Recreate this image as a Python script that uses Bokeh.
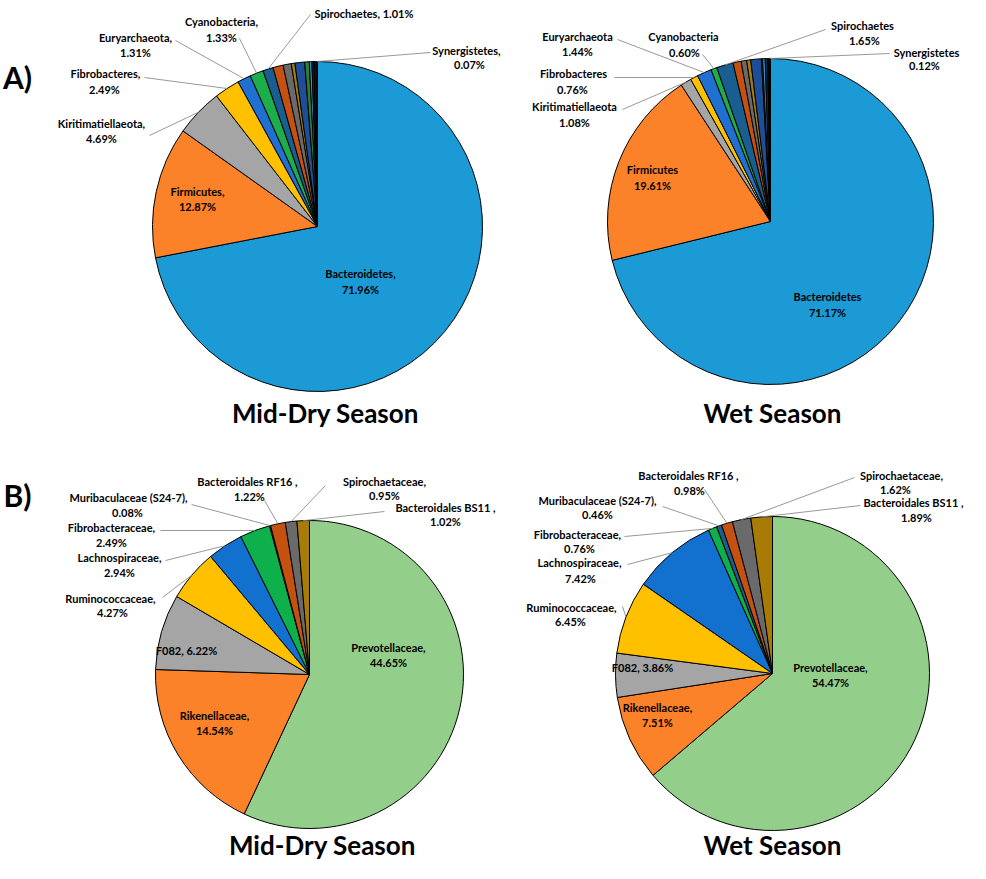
import math
from bokeh.plotting import figure
from bokeh.models import Range1d
from bokeh.core.properties import value
from bokeh.embed import file_html
from bokeh.resources import INLINE

# ---------------- data ----------------
phylum_names = ["Bacteroidetes", "Firmicutes", "Kiritimatiellaeota", "Fibrobacteres",
                "Euryarchaeota", "Cyanobacteria", "Spirochaetes",
                "Other 1", "Other 2", "Other 3", "Other 4", "Other 5",
                "Other 6", "Other 7", "Other 8", "Synergistetes"]
phylum_dry = [71.96, 12.87, 4.69, 2.49, 1.31, 1.33, 1.01,
              1.00, 0.80, 0.35, 0.95, 0.45, 0.25, 0.20, 0.27, 0.07]
phylum_wet = [71.17, 19.61, 1.08, 0.76, 1.44, 0.60, 1.65,
              0.80, 0.55, 0.40, 1.05, 0.12, 0.25, 0.25, 0.15, 0.12]

family_names = ["Prevotellaceae", "Rikenellaceae", "F082", "Ruminococcaceae",
                "Lachnospiraceae", "Fibrobacteraceae", "Muribaculaceae (S24-7)",
                "Bacteroidales RF16", "Spirochaetaceae", "Bacteroidales BS11"]
family_dry = [44.65, 14.54, 6.22, 4.27, 2.94, 2.49, 0.08, 1.22, 0.95, 1.02]
family_wet = [54.47, 7.51, 3.86, 6.45, 7.42, 0.76, 0.46, 0.98, 1.62, 1.89]

season_titles = ["Mid-Dry Season", "Wet Season"]
panel_tags = ["A)", "B)"]

# ---------------- styles ----------------
phylum_colors = ["#1C9AD6", "#FB8228", "#A5A5A5", "#FFC000", "#1F70D0", "#1BAE4B",
                 "#1A5D91", "#C4510F", "#6A6A6A", "#A87A06", "#1F4E99", "#2E7D32",
                 "#3E8FC8", "#0B2E52", "#111111", "#1C3F70"]
family_colors = ["#93CF8A", "#FB8228", "#A5A5A5", "#FFC000", "#1270CF", "#0DB04B",
                 "#1A5D91", "#C4510F", "#6A6A6A", "#A87A06"]

W, H = 970, 863
FONT = "Lato"
LABEL_SIZE = 11


def Y(py):
    return 879 - py


p = figure(width=W, height=H, x_range=Range1d(8, 8 + W), y_range=Range1d(8, 8 + H),
           output_backend="svg", toolbar_location=None, min_border=0)
p.axis.visible = False
p.grid.visible = False
p.outline_line_color = None
p.background_fill_color = "white"


def draw_pie(cx, cy, r, vals, colors):
    total = sum(vals)
    cum = 0.0
    mids, starts, ends = [], [], []
    for v in vals:
        c0 = cum / total
        cum += v
        c1 = cum / total
        starts.append(math.pi / 2 - 2 * math.pi * c1)
        ends.append(math.pi / 2 - 2 * math.pi * c0)
        mids.append(math.pi / 2 - math.pi * (c0 + c1))
    p.wedge(x=[cx] * len(vals), y=[Y(cy)] * len(vals), radius=r,
            start_angle=starts, end_angle=ends, direction="anticlock",
            fill_color=colors[:len(vals)], line_color="black", line_width=1)
    return mids


def label(text, x, y, size=LABEL_SIZE, align="center"):
    p.text(x=[x], y=[Y(y)], text=[text], text_font=value(FONT), text_font_style="bold",
           text_font_size=f"{size}px", text_align=align, text_baseline="middle",
           text_color="black")


def leader(cx, cy, r, ang, lx, ly):
    ax = cx + r * math.cos(ang)
    ay = Y(cy) + r * math.sin(ang)
    p.segment(x0=[lx], y0=[Y(ly)], x1=[ax], y1=[ay], line_color="#8C8C8C", line_width=0.9)


def place(spec, names, vals, mids, cx, cy, r, comma, space_comma=()):
    for name, s in spec.items():
        i = names.index(name)
        v = f"{vals[i]:.2f}%"
        sep = (" ," if name in space_comma else ",") if comma else ""
        kind = s[0]
        if kind == "two":
            _, x1, y1, x2, y2, lx, ly = s
            label(name + sep, x1, y1)
            label(v, x2, y2)
        else:
            _, x1, y1, align, lx, ly = s
            label(f"{name}, {v}", x1, y1, align=align)
        if lx is not None:
            leader(cx, cy, r, mids[i], lx, ly)


# ---------- A) Mid-Dry phylum ----------
cx, cy, r = 325, 234, 165
m = draw_pie(cx, cy, r, phylum_dry, phylum_colors)
place({
    "Bacteroidetes": ("two", 368, 281, 368, 297, None, None),
    "Firmicutes": ("two", 205, 199, 205, 214, None, None),
    "Kiritimatiellaeota": ("two", 109, 131, 109, 146, 157, 143),
    "Fibrobacteres": ("two", 113, 81, 112, 97, 152, 85),
    "Euryarchaeota": ("two", 143, 45, 143, 60, 183, 48),
    "Cyanobacteria": ("two", 229, 29, 229, 45, 247, 46),
    "Spirochaetes": ("one", 322, 21, "left", 318, 22),
    "Synergistetes": ("two", 474, 58, 477, 72, 438, 60),
}, phylum_names, phylum_dry, m, cx, cy, r, comma=True)

# ---------- A) Wet phylum ----------
cx, cy, r = 778, 229, 163
m = draw_pie(cx, cy, r, phylum_wet, phylum_colors)
place({
    "Bacteroidetes": ("two", 835, 304, 835, 320, None, None),
    "Firmicutes": ("two", 660, 177, 660, 193, None, None),
    "Kiritimatiellaeota": ("two", 582, 114, 582, 130, 630, 117),
    "Fibrobacteres": ("two", 581, 81, 580, 97, 622, 85),
    "Euryarchaeota": ("two", 585, 44, 585, 59, 625, 47),
    "Cyanobacteria": ("two", 691, 44, 692, 60, 710, 62),
    "Spirochaetes": ("two", 870, 33, 872, 48, 833, 37),
    "Synergistetes": ("two", 934, 60, 932, 73, 897, 61),
}, phylum_names, phylum_wet, m, cx, cy, r, comma=False)

# ---------- B) Mid-Dry family ----------
cx, cy, r = 317, 682, 154
m = draw_pie(cx, cy, r, family_dry, family_colors)
place({
    "Prevotellaceae": ("two", 396, 655, 396, 670, None, None),
    "Rikenellaceae": ("two", 222, 723, 222, 738, None, None),
    "F082": ("one", 194, 658, "center", None, None),
    "Ruminococcaceae": ("two", 118, 606, 120, 620, 170, 605),
    "Lachnospiraceae": ("two", 127, 565, 127, 580, 173, 568),
    "Fibrobacteraceae": ("two", 119, 535, 119, 550, 168, 538),
    "Muribaculaceae (S24-7)": ("two", 136, 505, 135, 520, 199, 512),
    "Bacteroidales RF16": ("two", 255, 489, 257, 504, 272, 508),
    "Spirochaetaceae": ("two", 392, 489, 392, 503, 333, 493),
    "Bacteroidales BS11": ("two", 453, 515, 453, 529, 392, 519),
}, family_names, family_dry, m, cx, cy, r, comma=True,
    space_comma=("Bacteroidales RF16", "Bacteroidales BS11"))

# ---------- B) Wet family ----------
cx, cy, r = 780, 681, 157
m = draw_pie(cx, cy, r, family_wet, family_colors)
place({
    "Prevotellaceae": ("two", 838, 675, 838, 690, None, None),
    "Rikenellaceae": ("two", 665, 715, 665, 730, None, None),
    "F082": ("one", 650, 675, "center", None, None),
    "Ruminococcaceae": ("two", 579, 615, 578, 629, 630, 614),
    "Lachnospiraceae": ("two", 587, 570, 588, 586, 635, 572),
    "Fibrobacteraceae": ("two", 585, 542, 587, 556, 632, 544),
    "Muribaculaceae (S24-7)": ("two", 605, 508, 605, 522, 670, 514),
    "Bacteroidales RF16": ("two", 696, 483, 697, 498, 712, 497),
    "Spirochaetaceae": ("two", 909, 483, 903, 497, 862, 485),
    "Bacteroidales BS11": ("two", 921, 510, 924, 525, 868, 513),
}, family_names, family_wet, m, cx, cy, r, comma=True,
    space_comma=("Bacteroidales RF16", "Bacteroidales BS11"))

# ---------- titles ----------
label(season_titles[0], 333, 420, size=26)
label(season_titles[1], 780, 420, size=26)
label(season_titles[0], 330, 852, size=26)
label(season_titles[1], 780, 852, size=26)
label(panel_tags[0], 25, 84, size=30)
label(panel_tags[1], 25, 502, size=30)

open("out.html", "w").write(file_html(p, INLINE))
